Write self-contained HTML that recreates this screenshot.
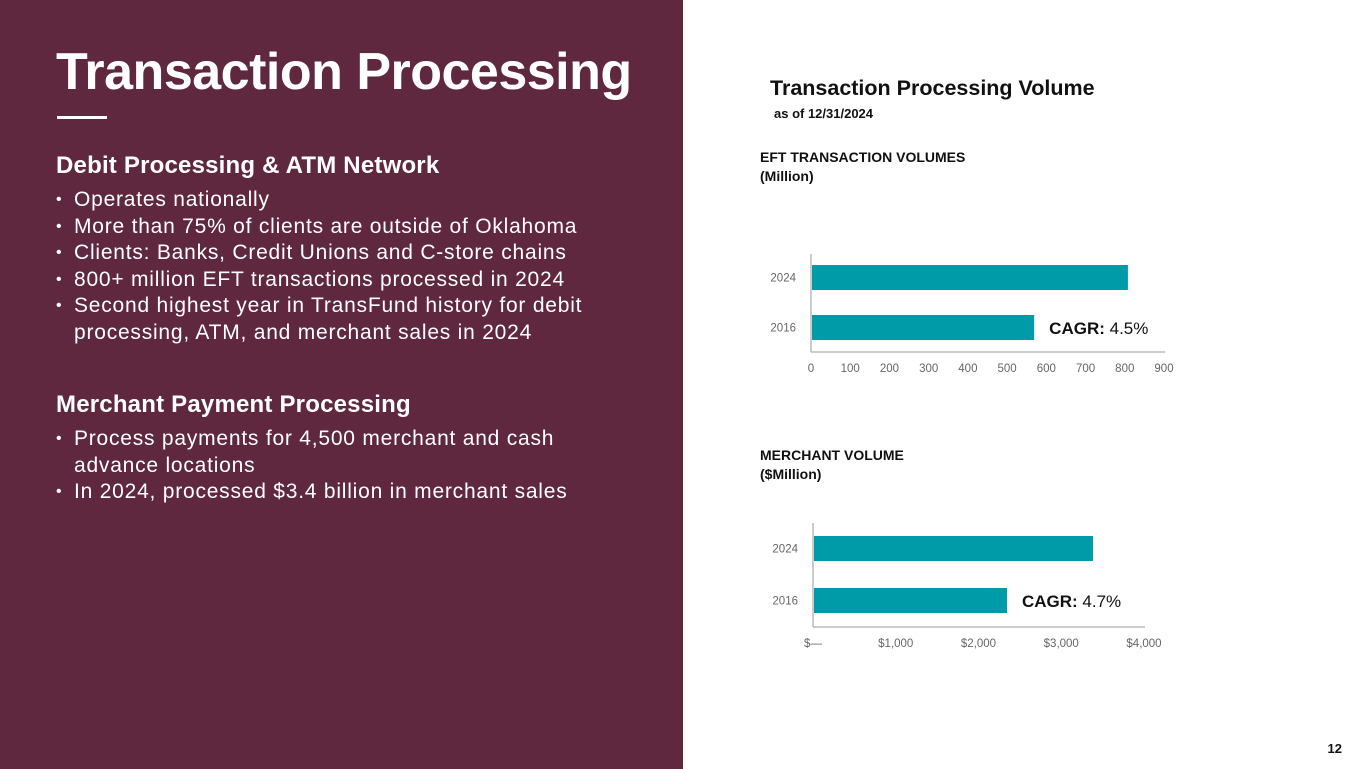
<!DOCTYPE html>
<html><head><meta charset="utf-8"><style>
body{margin:0;width:1365px;height:769px;overflow:hidden;background:#fff;font-family:"Liberation Sans",sans-serif;position:relative}
.left{position:absolute;left:0;top:0;width:683px;height:769px;background:#5f283e;color:#fff}
h1{position:absolute;left:56px;top:42px;margin:0;font-size:52px;font-weight:bold;letter-spacing:-0.5px}
.rule{position:absolute;left:57px;top:116px;width:50px;height:3px;background:#fff}
h2{position:absolute;left:56px;margin:0;font-size:24px;font-weight:bold;letter-spacing:0.2px}
ul{position:absolute;left:56px;margin:0;padding:0;list-style:none;font-size:21px;line-height:26.5px;letter-spacing:0.78px}
li{padding-left:18px;position:relative}
li:before{content:"•";position:absolute;left:0;font-size:16px}
.t{position:absolute;color:#111;font-weight:bold}
</style></head><body>
<div class="left">
<h1>Transaction Processing</h1>
<div class="rule"></div>
<h2 style="top:152px">Debit Processing &amp; ATM Network</h2>
<ul style="top:187px">
<li>Operates nationally</li>
<li>More than 75% of clients are outside of Oklahoma</li>
<li>Clients: Banks, Credit Unions and C-store chains</li>
<li>800+ million EFT transactions processed in 2024</li>
<li>Second highest year in TransFund history for debit<br>processing, ATM, and merchant sales in 2024</li>
</ul>
<h2 style="top:391px">Merchant Payment Processing</h2>
<ul style="top:426px">
<li>Process payments for 4,500 merchant and cash<br>advance locations</li>
<li>In 2024, processed $3.4 billion in merchant sales</li>
</ul>
</div>
<div class="t" style="left:770px;top:76px;font-size:21.5px">Transaction Processing Volume</div>
<div class="t" style="left:774px;top:106px;font-size:13px">as of 12/31/2024</div>
<div class="t" style="left:760px;top:148px;font-size:14px;line-height:19px">EFT TRANSACTION VOLUMES<br>(Million)</div>
<div class="t" style="left:760px;top:446px;font-size:14px;line-height:19px">MERCHANT VOLUME<br>($Million)</div>
<div class="t" style="right:23px;top:741px;font-size:13px">12</div>
<svg id="svg" width="1365" height="769" style="position:absolute;left:0;top:0"></svg>
<script>
const eftCats=["2024","2016"];
const eftVals=[808,569];
const eftTicks=[0,100,200,300,400,500,600,700,800,900];
const merCats=["2024","2016"];
const merVals=[3384,2344];
const merTicks=[0,1000,2000,3000,4000];
const merTickLabels=["$—","$1,000","$2,000","$3,000","$4,000"];
const eftCagr="4.5%";
const merCagr="4.7%";
const NS="http://www.w3.org/2000/svg";
const svg=document.getElementById('svg');
function mk(t,a){const e=document.createElementNS(NS,t);for(const k in a)e.setAttribute(k,a[k]);svg.appendChild(e);return e;}
function chart(o){
  const x=v=>o.x0+(v-o.min)/(o.max-o.min)*(o.x1-o.x0);
  const ax=mk('line',{x1:o.x0,y1:o.yTop,x2:o.x0,y2:o.base,stroke:'#bbb','stroke-width':1.5});
  
  const bx=mk('line',{x1:o.x0,y1:o.base,x2:o.x1+1,y2:o.base,stroke:'#bbb','stroke-width':1.5});
  
  o.ticks.forEach((t,i)=>{const e=mk('text',{x:x(t),y:o.base+20,'text-anchor':'middle','font-size':11.5,fill:'#666','font-family':'Liberation Sans'});e.textContent=o.labels?o.labels[i]:t;
    });
  o.cats.forEach((c,i)=>{const y=o.bars[i];
    const r=mk('rect',{x:o.x0+1,y:y,width:x(o.vals[i])-o.x0-1,height:25,fill:'#009ba8'});
    
    const l=mk('text',{x:o.x0-15,y:y+16.5,'text-anchor':'end','font-size':11.5,fill:'#666','font-family':'Liberation Sans'});l.textContent=c;
    });
  const c=mk('text',{x:x(o.vals[1])+15,y:o.bars[1]+19,'font-size':17,fill:'#111','font-family':'Liberation Sans'});
  c.innerHTML='<tspan font-weight="bold">CAGR:</tspan> '+o.cagr;
  
}
chart({name:'eft',x0:811,x1:1164,min:0,max:900,yTop:254,base:352,bars:[265,315],cats:eftCats,vals:eftVals,ticks:eftTicks,cagr:eftCagr});
chart({name:'merchant',x0:813,x1:1144,min:0,max:4000,yTop:523,base:627,bars:[536,588],cats:merCats,vals:merVals,ticks:merTicks,labels:merTickLabels,cagr:merCagr});
</script>
</body></html>
